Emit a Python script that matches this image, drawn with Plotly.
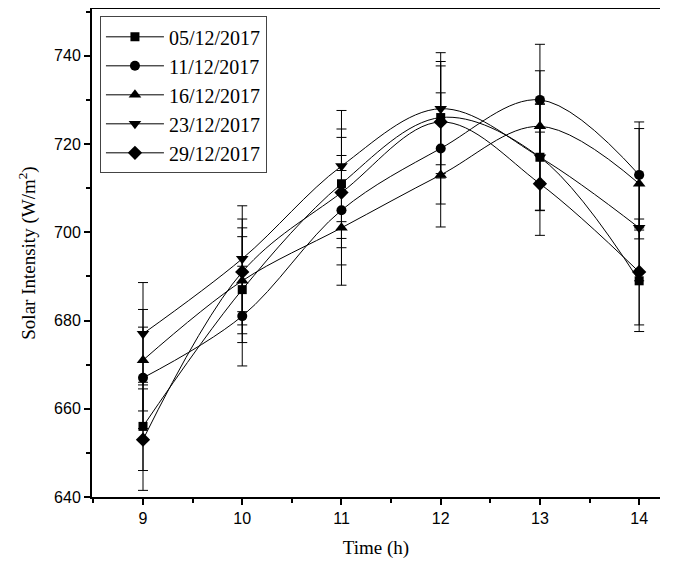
import plotly.graph_objects as go

hours = [9, 10, 11, 12, 13, 14]
dates = ["05/12/2017", "11/12/2017", "16/12/2017", "23/12/2017", "29/12/2017"]

s_0512 = [656, 687, 711, 726, 717, 689]
s_1112 = [667, 681, 705, 719, 730, 713]
s_1612 = [671, 689, 701, 713, 724, 711]
s_2312 = [677, 694, 715, 728, 717, 701]
s_2912 = [653, 691, 709, 725, 711, 691]

e_0512 = [10, 12, 12.4, 12.7, 12, 11.5]
e_1112 = [11.5, 11.3, 12.4, 12.6, 12.6, 12]
e_1612 = [11.5, 12, 13, 11.8, 12.6, 12.5]
e_2312 = [11.6, 12, 12.6, 12.7, 12.1, 12]
e_2912 = [11.5, 12, 12.5, 12.7, 11.7, 12]

series = [s_0512, s_1112, s_1612, s_2312, s_2912]
errors = [e_0512, e_1112, e_1612, e_2312, e_2912]
symbols = ["square", "circle", "triangle-up", "triangle-down", "diamond"]
sizes = [9, 10, 11, 11, 11]

fig = go.Figure()
for name, ys, es, sym, sz in zip(dates, series, errors, symbols, sizes):
    fig.add_trace(go.Scatter(
        x=hours, y=ys, name=name, mode="lines+markers",
        line=dict(color="black", width=1, shape="spline", smoothing=1.0),
        marker=dict(symbol=sym, size=sz, color="black"),
        error_y=dict(type="data", array=es, visible=True, color="black",
                     thickness=1, width=5),
    ))

serif = "Liberation Serif, Times New Roman, serif"
sans = "Liberation Sans, Arial, sans-serif"

fig.update_layout(
    width=670, height=560,
    margin=dict(l=84, r=18, t=1, b=71),
    plot_bgcolor="white", paper_bgcolor="white",
    showlegend=True,
    legend=dict(
        x=0.014, y=0.985, xanchor="left", yanchor="top",
        bordercolor="#444", borderwidth=1, bgcolor="white",
        font=dict(family=serif, size=20, color="black"),
        tracegroupgap=0, itemwidth=58,
    ),
    xaxis=dict(
        range=[8.486, 14.21], tickvals=hours, ticktext=[str(h) for h in hours],
        showgrid=False, zeroline=False, automargin=False,
        showline=True, linecolor="black", linewidth=2, mirror=True,
        ticks="outside", ticklen=6, tickwidth=1.5, tickcolor="black",
        minor=dict(ticks="outside", ticklen=4, tickwidth=1.5, tickcolor="black", dtick=0.5, tick0=8.5),
        tickfont=dict(family=sans, size=16, color="black"),
        title=dict(text="Time (h)", standoff=14,
                   font=dict(family=serif, size=19, color="black")),
    ),
    yaxis=dict(
        range=[640, 750.6], tickvals=[640, 660, 680, 700, 720, 740],
        showgrid=False, zeroline=False, automargin=False,
        showline=True, linecolor="black", linewidth=2, mirror=False,
        ticks="outside", ticklen=6, tickwidth=1.5, tickcolor="black",
        minor=dict(ticks="outside", ticklen=4, tickwidth=1.5, tickcolor="black", dtick=10, tick0=630),
        tickfont=dict(family=sans, size=16, color="black"),
        title=dict(text="Solar Intensity (W/m<sup>2</sup>)", standoff=13,
                   font=dict(family=serif, size=19, color="black")),
    ),
)

fig.write_html("out.html")
